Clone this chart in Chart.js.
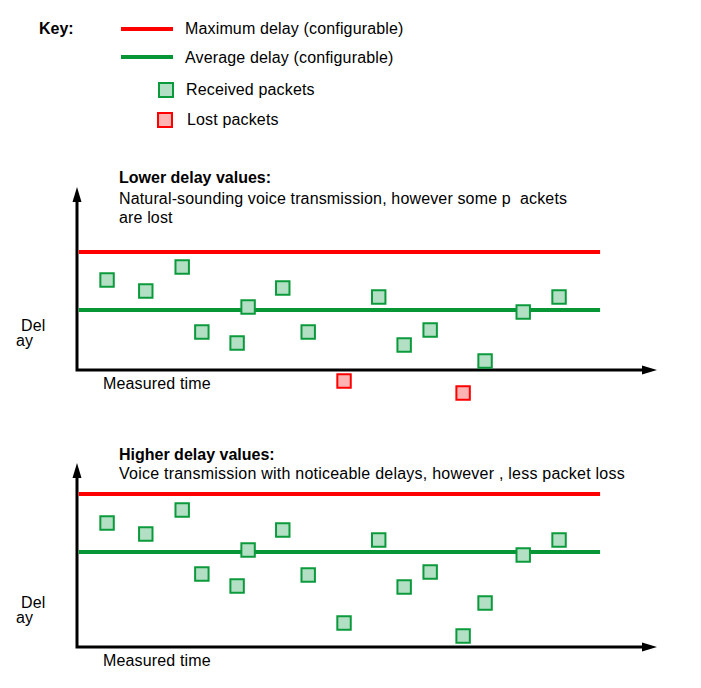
<!DOCTYPE html>
<html lang="en">

<head>
  <meta charset="UTF-8">
  <title>Packet delay</title>
  <script src="https://cdn.jsdelivr.net/npm/chart.js@4.4.1/dist/chart.umd.min.js"></script>
  <style>
    body {
      margin: 0;
      width: 701px;
      height: 688px;
      position: relative;
      background: white;
      overflow: hidden;
      font-family: "Liberation Sans", Arial, sans-serif;
      font-size: 16px;
      color: #000;
    }

    .txt {
      position: absolute;
      line-height: 18px;
      white-space: pre;
      letter-spacing: 0.15px;
    }

    .bold {
      font-weight: bold;
      letter-spacing: 0;
    }

    .keyline {
      position: absolute;
      height: 4px;
      width: 52px;
    }

    .keybox {
      position: absolute;
      width: 12px;
      height: 12px;
      border: 2px solid;
    }

    canvas {
      position: absolute;
      left: 0;
    }
  </style>
</head>

<body>
  <!-- key -->
  <div class="txt bold" style="left:39px; top:20px">Key:</div>
  <div class="keyline" style="left:121px; top:27px; background:#ff0000"></div>
  <div class="txt" style="left:185px; top:20px">Maximum delay (configurable)</div>
  <div class="keyline" style="left:121px; top:55px; background:#079636"></div>
  <div class="txt" style="left:185px; top:49px">Average delay (configurable)</div>
  <div class="keybox" style="left:158px; top:82px; background:#b3e0c5; border-color:#0b9a3b"></div>
  <div class="txt" style="left:186px; top:81px">Received packets</div>
  <div class="keybox" style="left:157px; top:112px; background:#ffb4b4; border-color:#ff0000"></div>
  <div class="txt" style="left:187px; top:111px">Lost packets</div>

  <!-- upper panel -->
  <div class="txt bold" style="left:119px; top:169px">Lower delay values:</div>
  <div class="txt" style="left:119px; top:190px">Natural-sounding voice transmission, however some p  ackets</div>
  <div class="txt" style="left:119px; top:209px">are lost</div>
  <div class="txt" style="left:21px; top:317px">Del</div>
  <div class="txt" style="left:16px; top:332px">ay</div>
  <div class="txt" style="left:103px; top:375px">Measured time</div>
  <canvas id="lowChart" width="701" height="260" style="top:150px"></canvas>

  <!-- lower panel -->
  <div class="txt bold" style="left:119px; top:446px">Higher delay values:</div>
  <div class="txt" style="left:119px; top:465px; letter-spacing:0.23px">Voice transmission with noticeable delays, however , less packet loss</div>
  <div class="txt" style="left:21px; top:594px">Del</div>
  <div class="txt" style="left:16px; top:609px">ay</div>
  <div class="txt" style="left:103px; top:652px">Measured time</div>
  <canvas id="highChart" width="701" height="258" style="top:430px"></canvas>

  <script>
    // time of each packet (same for both panels), 0..100
    const packetTimes = [5.2, 11.9, 18.2, 21.6, 27.7, 29.6, 35.6, 40.0, 46.2, 52.2, 56.6, 61.1, 66.8, 70.6, 77.2, 83.4];
    // delay of each packet, 0..100 (lost packets are shown below zero)
    const lowDelays = [49.2, 43.2, 56.3, 20.8, 14.8, 34.4, 44.8, 20.8, -6.0, 39.9, 13.7, 21.9, -12.6, 4.9, 31.7, 39.9];
    const lowLost = [8, 12]; // indexes of lost packets in the lower-delay case
    const highDelays = [67.4, 61.4, 74.5, 39.7, 33.2, 52.7, 63.6, 39.1, 13.0, 58.2, 32.6, 40.8, 6.0, 23.9, 50.0, 58.2];
    const highLost = [];

    const lineStart = 0.3;
    const lineEnd = 90.5;
    const lowMax = 64.5;
    const lowAvg = 32.8;
    const highMax = 83.2;
    const highAvg = 51.6;

    // axes with arrows, drawn at zero of each scale
    const arrowAxes = {
      id: 'arrowAxes',
      beforeDatasetsDraw(chart) {
        const ctx = chart.ctx;
        const a = chart.chartArea;
        const x0 = chart.scales.x.getPixelForValue(0);
        const y0 = chart.scales.y.getPixelForValue(0);
        ctx.save();
        ctx.strokeStyle = '#000';
        ctx.fillStyle = '#000';
        ctx.lineWidth = 3;
        ctx.beginPath();
        ctx.moveTo(x0, a.top + 10);
        ctx.lineTo(x0, y0);
        ctx.lineTo(a.right - 8, y0);
        ctx.stroke();
        ctx.beginPath();
        ctx.moveTo(x0, a.top);
        ctx.lineTo(x0 - 4.5, a.top + 15);
        ctx.lineTo(x0 + 4.5, a.top + 15);
        ctx.closePath();
        ctx.fill();
        ctx.beginPath();
        ctx.moveTo(a.right + 2, y0);
        ctx.lineTo(a.right - 13, y0 - 4.5);
        ctx.lineTo(a.right - 13, y0 + 4.5);
        ctx.closePath();
        ctx.fill();
        ctx.restore();
      }
    };

    function makePanel(id, delays, lost, maxDelay, avgDelay, padTop, padBottom) {
      const received = [];
      const dropped = [];
      for (let i = 0; i < packetTimes.length; i++) {
        const p = { x: packetTimes[i], y: delays[i] };
        if (lost.includes(i)) dropped.push(p);
        else received.push(p);
      }
      new Chart(document.getElementById(id), {
        type: 'scatter',
        data: {
          datasets: [
            {
              type: 'line',
              data: [{ x: lineStart, y: maxDelay }, { x: lineEnd, y: maxDelay }],
              borderColor: '#ff0000',
              borderWidth: 4,
              pointRadius: 0,
              order: 3
            },
            {
              type: 'line',
              data: [{ x: lineStart, y: avgDelay }, { x: lineEnd, y: avgDelay }],
              borderColor: '#079636',
              borderWidth: 4,
              pointRadius: 0,
              order: 2
            },
            {
              data: received,
              pointStyle: 'rect',
              pointRadius: 9.5,
              backgroundColor: '#b3e0c5',
              borderColor: '#0b9a3b',
              borderWidth: 2,
              clip: false,
              order: 1
            },
            {
              data: dropped,
              pointStyle: 'rect',
              pointRadius: 9.5,
              backgroundColor: '#ffb4b4',
              borderColor: '#ff0000',
              borderWidth: 2,
              clip: false,
              order: 1
            }
          ]
        },
        options: {
          responsive: false,
          animation: false,
          layout: {
            autoPadding: false,
            padding: { left: 77, right: 46, top: padTop, bottom: padBottom }
          },
          scales: {
            x: { type: 'linear', display: false, min: 0, max: 100 },
            y: { type: 'linear', display: false, min: -20, max: 100 }
          },
          plugins: {
            legend: { display: false },
            tooltip: { enabled: false }
          }
        },
        plugins: [arrowAxes]
      });
    }

    makePanel('lowChart', lowDelays, lowLost, lowMax, lowAvg, 37, 3.4);
    makePanel('highChart', highDelays, highLost, highMax, highAvg, 33, 4.2);
  </script>
</body>

</html>
